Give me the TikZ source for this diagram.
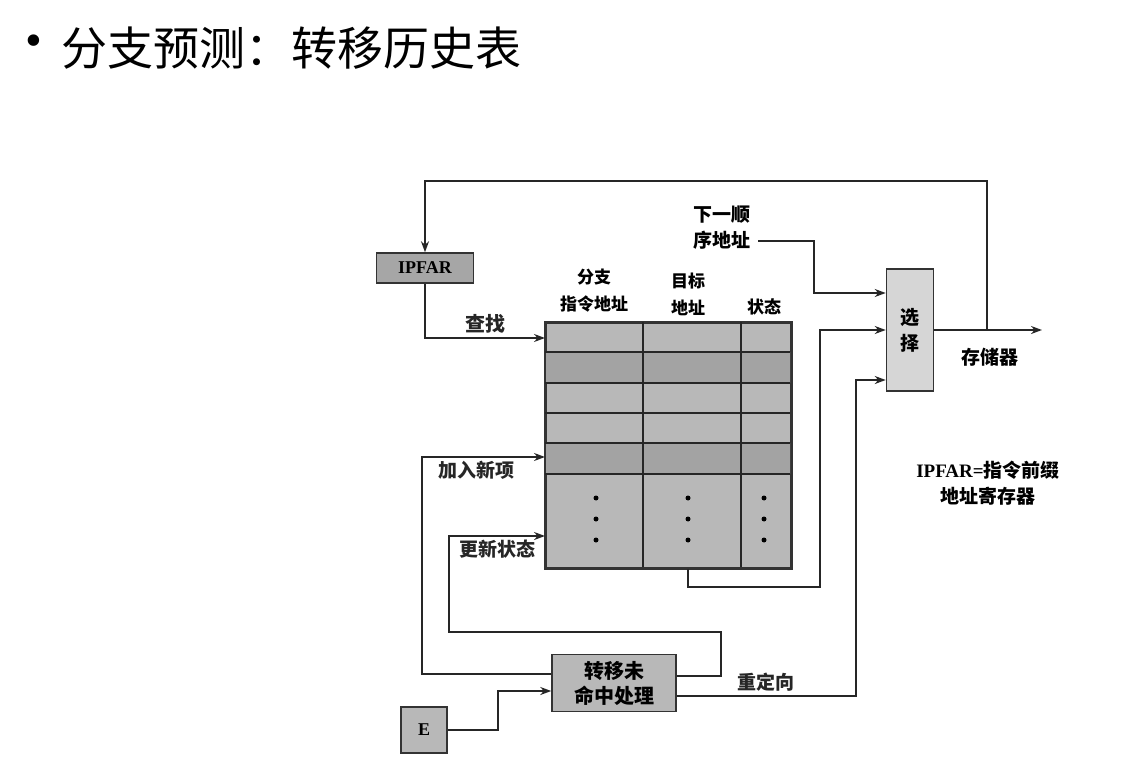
\documentclass[tikz,border=0pt]{standalone}
\usepackage{fontspec}
\setmainfont{Liberation Serif}
\newfontfamily\cjk{Noto Sans CJK SC}
\usetikzlibrary{arrows.meta,positioning,calc}

\begin{document}
\begin{tikzpicture}[
  x=1pt, y=-1pt,
  >={Stealth[length=11pt,width=8pt]},
  every node/.style={font=\cjk\bfseries\fontsize{19}{26}\selectfont},
  blk/.style={draw=black!80, line width=1.5pt, fill=black!28, align=center, inner sep=0pt},
  latin/.style={font=\rmfamily\bfseries\fontsize{18}{22}\selectfont},
  wire/.style={line width=2pt, black!85},
  link/.style={->, line width=2pt, black!85},
]
\useasboundingbox (0,0) rectangle (1146,770);

% heading
\node[font=\rmfamily\fontsize{48}{48}\selectfont] (bul) at (34,46) {\textbullet};
\node[anchor=west, font=\cjk\fontsize{46}{50}\selectfont] (title) at (58,48) {分支预测：转移历史表};

% branch history table
\node[blk, minimum width=245, minimum height=245, anchor=north west] (bht) at (545,322) {};
\fill[black!36] (545,352) rectangle (790,383) (545,443) rectangle (790,474);
\draw[wire, black!80] (bht.north west) rectangle (bht.south east);
\foreach \y in {352,383,413,443,474}
  \draw[wire] (545,\y) -- (790,\y);
\foreach \x in {643,741}
  \draw[wire] (\x,322) -- (\x,567);
\foreach \x in {596,688,764}
  \foreach \y in {498,519,540}
    \fill (\x,\y) circle (2.5);

\node[font=\cjk\bfseries\fontsize{17}{27}\selectfont, align=center] (hbr) at (594,291) {分支\\指令地址};
\node[font=\cjk\bfseries\fontsize{17}{27}\selectfont, align=center] (htg) at (688,294) {目标\\地址};
\node[font=\cjk\bfseries\fontsize{17}{27}\selectfont] (hst) at (764,307) {状态};

% registers and logic
\node[blk, latin, fill=black!35, minimum width=97, minimum height=30] (ipfar) at (425,268) {IPFAR};
\node[blk, fill=black!16, minimum width=47, minimum height=122] (mux) at (910,330) {选\\择};
\node[blk, minimum width=124, minimum height=57, font=\cjk\bfseries\fontsize{20}{25}\selectfont] (miss) at (614,683) {转移未\\命中处理};
\node[blk, latin, minimum width=46, minimum height=46] (e) at (424,730) {E};

\node[align=center] (nxt) at (722,228) {下一顺\\序地址};
\node (mem) at (990,357) {存储器};
\node[align=center] (note) at (988,483) {{\rmfamily IPFAR=}指令前缀\\地址寄存器};
\coordinate (out) at (1042,330);
\coordinate (tap) at (987,330);

% connectors
\draw[link] (mux.east) -- (out);
\draw[link] (tap) -- (987,181) -| (ipfar.north);
\draw[link] (ipfar.south) |- node[pos=0.75, above, font=\cjk\bfseries\fontsize{20}{24}\selectfont] {查找} ([yshift=-16pt]bht.north west);
\draw[link] ([xshift=4pt,yshift=-13pt]nxt.east) -- ++(56,0) |- ([yshift=37pt]mux.west);
\draw[link] ([xshift=143pt]bht.south west) |- (820,587) |- (mux.west);
\draw[link] ([yshift=9pt]miss.west) -- ++(-129,0)
  |- node[pos=0.72, below] {加入新项} ([yshift=-135pt]bht.north west);
\draw[link] ([yshift=7pt]miss.east) -- ++(44,0) |- (449,632)
  |- node[pos=0.75, below] {更新状态} ([yshift=-214pt]bht.north west);
\draw[link] (e.east) -- ++(50,0) |- ([yshift=-8pt]miss.west);
\draw[link] ([yshift=-13pt]miss.east) -- node[above] {重定向} ++(179,0) |- ([yshift=-50pt]mux.west);
\end{tikzpicture}
\end{document}
